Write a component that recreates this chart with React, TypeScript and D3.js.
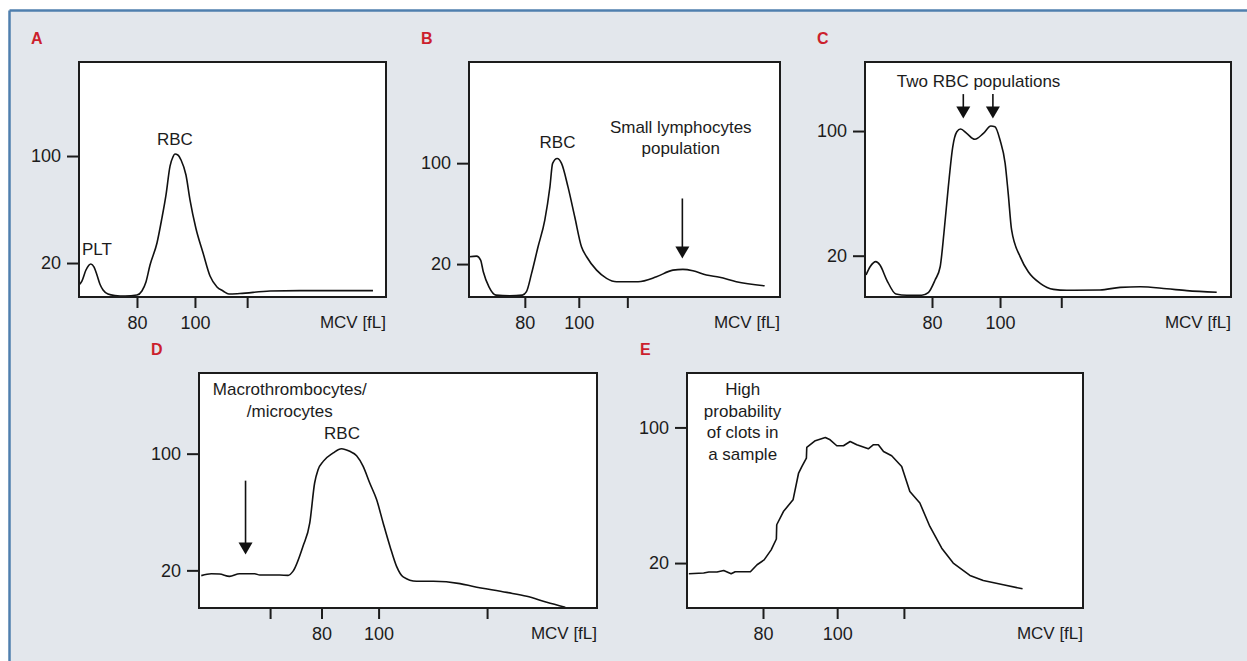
import React, { useEffect, useRef } from 'react';
import * as d3 from 'd3';

// MCV histograms (x = MCV fL, y = relative count)
const aMcv = [60.0, 61.0, 62.4, 64.1, 65.2, 66.2, 67.2, 68.3, 70.0, 72.4, 75.9, 80.0, 81.7, 83.1, 84.5, 86.9, 88.6, 90.0, 91.4, 92.4, 93.1, 94.1, 95.2, 96.9, 98.3, 100.3, 102.8, 105.2, 107.6, 109.7, 111.7, 115.5, 125.9, 136.2, 161.4];
const aCount = [3.6, 6.5, 14.8, 19.3, 17.0, 11.0, 4.3, -0.2, -3.2, -4.3, -4.7, -3.9, -0.9, 5.8, 18.5, 35.0, 53.6, 70.8, 92.5, 99.3, 101.5, 100.8, 97.0, 85.8, 67.1, 46.2, 27.5, 10.3, 2.1, -0.9, -3.2, -2.8, -0.9, -0.6, -0.6];

const bMcv = [59.4, 62.1, 63.6, 64.6, 66.7, 69.3, 74.4, 79.1, 80.6, 82.5, 84.9, 87.4, 89.3, 90.3, 92.0, 93.6, 96.0, 98.5, 101.0, 102.9, 106.6, 110.3, 114.0, 122.0, 128.8, 134.9, 138.6, 142.3, 147.3, 152.2, 158.4, 168.9];
const bCount = [25.8, 26.3, 23.2, 13.9, 2.0, -4.6, -5.1, -4.6, -1.9, 12.6, 33.7, 54.9, 81.2, 99.8, 103.7, 99.8, 81.2, 57.5, 33.7, 25.8, 15.2, 8.7, 6.0, 6.0, 9.9, 15.2, 15.8, 14.7, 11.3, 9.5, 6.0, 2.8];

const cMcv = [60.6, 61.8, 63.5, 64.7, 66.7, 69.4, 72.6, 77.0, 78.9, 80.9, 82.4, 83.5, 84.8, 86.1, 87.3, 88.4, 90.2, 92.6, 95.1, 97.3, 98.5, 100.0, 101.5, 102.4, 103.4, 105.9, 108.3, 111.8, 115.7, 119.6, 129.4, 135.3, 141.2, 149.0, 154.9, 163.7];
const cCount = [7.6, 12.9, 16.2, 14.0, 4.4, -4.6, -5.4, -5.4, -3.7, 4.4, 12.9, 34.4, 64.3, 89.9, 99.5, 101.3, 98.5, 94.7, 98.5, 103.2, 102.7, 94.2, 79.3, 60.0, 36.5, 19.4, 9.7, 2.3, -1.6, -2.2, -2.0, -0.3, 0.1, -1.2, -2.4, -3.5];

const dMcv = [37.9, 41.4, 44.3, 47.8, 51.3, 56.6, 58.4, 65.4, 68.3, 70.0, 73.5, 75.9, 77.6, 78.8, 80.6, 84.1, 87.0, 89.9, 92.3, 94.6, 96.9, 99.3, 101.6, 104.0, 106.3, 108.6, 113.3, 119.2, 128.5, 133.2, 144.9, 151.9, 158.9, 165.4];
const dCount = [16.4, 17.7, 17.5, 15.9, 17.7, 17.7, 16.8, 16.8, 16.6, 19.3, 36.4, 52.5, 79.9, 89.0, 94.7, 100.5, 103.4, 101.6, 98.6, 91.3, 79.9, 68.5, 52.5, 36.4, 22.7, 15.5, 12.5, 12.5, 10.9, 9.0, 4.9, 2.2, -1.9, -5.3];

const eMcv = [60.0, 64.0, 65.4, 67.6, 69.4, 71.4, 72.5, 76.6, 78.4, 80.3, 82.2, 83.6, 83.7, 85.5, 88.1, 89.6, 90.5, 91.7, 91.8, 94.1, 96.8, 98.1, 99.9, 101.7, 103.5, 105.3, 108.4, 109.8, 111.1, 112.5, 114.7, 117.4, 119.6, 122.3, 125.0, 128.2, 131.3, 135.8, 139.4, 144.8, 150.0];
const eCount = [13.7, 14.1, 14.7, 14.7, 15.6, 13.7, 14.9, 14.9, 19.0, 21.9, 27.8, 34.2, 42.6, 50.4, 57.3, 73.1, 77.0, 81.9, 88.2, 92.2, 94.1, 92.7, 89.2, 89.2, 91.7, 89.8, 87.4, 89.8, 89.8, 85.8, 83.3, 77.0, 62.2, 55.4, 41.6, 28.8, 20.0, 12.7, 9.7, 7.2, 4.8];

const xTickValues = [80, 100, 118];
const xTickLabels = ['80', '100', ''];
const dTickValues = [62, 80, 100, 138];
const dTickLabels = ['', '80', '100', ''];
const yTickValues = [20, 100];

// annotations: [mcv, count, text]
const aNotes: [number, number, string][] = [[93.1, 108.2, 'RBC'], [66.2, 26, 'PLT']];
const bNotes: [number, number, string][] = [[92.1, 112.1, 'RBC'], [137.8, 123.8, 'Small lymphocytes'], [137.8, 107.1, 'population']];
const cNotes: [number, number, string][] = [[93.7, 128.4, 'Two RBC populations']];
const dNotes: [number, number, string][] = [[68.9, 139.9, 'Macrothrombocytes/'], [68.9, 124.9, '/microcytes'], [87.2, 110, 'RBC']];
const eNotes: [number, number, string][] = [[74.5, 118.9, 'High'], [74.5, 106.1, 'probability'], [74.5, 93.7, 'of clots in'], [74.5, 80.9, 'a sample']];

// arrows: [mcv, tail count, tip count]
const bArrows = [[138.4, 72, 24.5]];
const cArrows = [[89.2, 123.7, 108.1], [97.9, 123.7, 108.1]];
const dArrows = [[53.4, 81.5, 30.8]];

const panels = [
  { id: 'A', lx: 31, ly: 44, box: { x: 79, y: 62, w: 307, h: 235 }, xd: [60.0, 165.9], yd: [-5.4, 170.3], mcv: aMcv, count: aCount, ticks: xTickValues, tickLabels: xTickLabels, notes: aNotes, arrows: [], curve: d3.curveMonotoneX },
  { id: 'B', lx: 421, ly: 44, box: { x: 469, y: 62, w: 311, h: 235 }, xd: [59.3, 174.6], yd: [-6.1, 180.2], mcv: bMcv, count: bCount, ticks: xTickValues, tickLabels: xTickLabels, notes: bNotes, arrows: bArrows, curve: d3.curveMonotoneX },
  { id: 'C', lx: 817, ly: 44, box: { x: 865, y: 62, w: 366, h: 235 }, xd: [60.3, 167.9], yd: [-6.5, 144.3], mcv: cMcv, count: cCount, ticks: xTickValues, tickLabels: xTickLabels, notes: cNotes, arrows: cArrows, curve: d3.curveMonotoneX },
  { id: 'D', lx: 151, ly: 355, box: { x: 199, y: 373, w: 398, h: 235 }, xd: [37.1, 176.5], yd: [-5.8, 155.3], mcv: dMcv, count: dCount, ticks: dTickValues, tickLabels: dTickLabels, notes: dNotes, arrows: dArrows, curve: d3.curveMonotoneX },
  { id: 'E', lx: 640, ly: 355, box: { x: 687, y: 373, w: 396, h: 235 }, xd: [59.5, 166.3], yd: [-6.5, 132.1], mcv: eMcv, count: eCount, ticks: xTickValues, tickLabels: xTickLabels, notes: eNotes, arrows: [], curve: d3.curveLinear },
];

const FONT = '"Liberation Sans", Arial, sans-serif';
const INK = '#1c1c1c';

const App = () => {
  const svgRef = useRef<SVGSVGElement>(null);

  useEffect(() => {
    if (!svgRef.current) return;
    const svg = d3.select(svgRef.current);
    svg.selectAll('*').remove();

    // background + frame
    svg.append('rect').attr('width', 1247).attr('height', 661).attr('fill', '#ffffff');
    svg.append('rect').attr('x', 9.5).attr('y', 10.5).attr('width', 1247).attr('height', 661).attr('fill', '#e3e7ec');
    svg.append('line').attr('x1', 9.5).attr('x2', 1247).attr('y1', 10.5).attr('y2', 10.5).attr('stroke', '#4f7fae').attr('stroke-width', 2.5);
    svg.append('line').attr('x1', 9.5).attr('x2', 9.5).attr('y1', 10.5).attr('y2', 661).attr('stroke', '#4f7fae').attr('stroke-width', 2.5);

    panels.forEach(p => {
      const { box } = p;
      const x = d3.scaleLinear().domain(p.xd).range([box.x, box.x + box.w]);
      const y = d3.scaleLinear().domain(p.yd).range([box.y + box.h, box.y]);

      svg.append('text')
        .attr('x', p.lx).attr('y', p.ly)
        .style('font-family', FONT).style('font-size', '16px').style('font-weight', '700')
        .style('fill', '#cc1f2d')
        .text(p.id);

      svg.append('rect')
        .attr('x', box.x).attr('y', box.y).attr('width', box.w).attr('height', box.h)
        .attr('fill', '#ffffff');

      // axes
      const xAxis = d3.axisBottom(x)
        .tickValues(p.ticks)
        .tickFormat((d, i) => p.tickLabels[i])
        .tickSize(11).tickPadding(8);
      const gx = svg.append('g')
        .attr('transform', `translate(0,${box.y + box.h})`)
        .call(xAxis);
      gx.select('.domain').remove();
      gx.selectAll('line').attr('stroke', INK).attr('stroke-width', 2);
      gx.selectAll('text').style('font-family', FONT).style('font-size', '18px').style('fill', INK);

      const yAxis = d3.axisLeft(y).tickValues(yTickValues).tickSize(12).tickPadding(6);
      const gy = svg.append('g')
        .attr('transform', `translate(${box.x},0)`)
        .call(yAxis);
      gy.select('.domain').remove();
      gy.selectAll('line').attr('stroke', INK).attr('stroke-width', 2);
      gy.selectAll('text').style('font-family', FONT).style('font-size', '18px').style('fill', INK);

      svg.append('text')
        .attr('x', box.x + box.w).attr('y', box.y + box.h + 31)
        .attr('text-anchor', 'end')
        .style('font-family', FONT).style('font-size', '17px').style('fill', INK)
        .text('MCV [fL]');

      // histogram line
      const data = p.mcv.map((m, i) => [m, p.count[i]] as [number, number]);
      const line = d3.line<[number, number]>()
        .x(d => x(d[0]))
        .y(d => y(d[1]))
        .curve(p.curve);
      svg.append('path')
        .datum(data)
        .attr('fill', 'none')
        .attr('stroke', '#111')
        .attr('stroke-width', 1.6)
        .attr('stroke-linejoin', 'round')
        .attr('d', line);

      // box outline on top
      svg.append('rect')
        .attr('x', box.x).attr('y', box.y).attr('width', box.w).attr('height', box.h)
        .attr('fill', 'none').attr('stroke', INK).attr('stroke-width', 2);

      // annotations
      p.notes.forEach(n => {
        svg.append('text')
          .attr('x', x(n[0])).attr('y', y(n[1]))
          .attr('text-anchor', 'middle')
          .style('font-family', FONT).style('font-size', '17px').style('fill', INK)
          .text(n[2]);
      });

      p.arrows.forEach(a => {
        const ax = x(a[0]);
        const tail = y(a[1]);
        const tip = y(a[2]);
        svg.append('line')
          .attr('x1', ax).attr('x2', ax).attr('y1', tail).attr('y2', tip - 10)
          .attr('stroke', '#111').attr('stroke-width', 1.6);
        svg.append('path')
          .attr('d', `M${ax - 7},${tip - 12}L${ax + 7},${tip - 12}L${ax},${tip}Z`)
          .attr('fill', '#111');
      });
    });
  }, []);

  return (
    <svg
      ref={svgRef}
      width={1247}
      height={661}
      style={{ position: 'absolute', left: 0, top: 0, display: 'block' }}
    />
  );
};

export default App;
